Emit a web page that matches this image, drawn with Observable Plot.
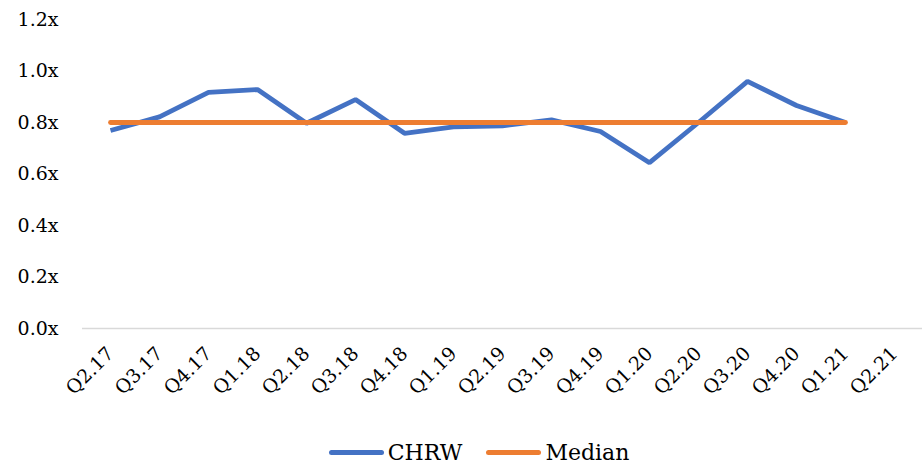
<!DOCTYPE html>
<html>
<head>
<meta charset="utf-8">
<script src="https://cdn.jsdelivr.net/npm/d3@7"></script>
<script src="https://cdn.jsdelivr.net/npm/@observablehq/plot@0.6"></script>
<style>
  html, body { margin: 0; padding: 0; background: #fff; }
  body { width: 922px; height: 463px; overflow: hidden; position: relative; font-family: "DejaVu Serif", serif; }
  #legend { position: absolute; left: 0; top: 436px; width: 922px; display: flex; justify-content: center; align-items: center; height: 32px; padding-left: 36px; box-sizing: border-box; font-size: 22px; color: #000; }
  .item { display: flex; align-items: center; margin: 0 12px; }
  .sw { width: 55px; height: 5px; border-radius: 3px; margin-right: 4px; }
</style>
</head>
<body>
<div id="chart"></div>
<div id="legend"></div>
<script>
const quarters = ["Q2.17","Q3.17","Q4.17","Q1.18","Q2.18","Q3.18","Q4.18","Q1.19","Q2.19","Q3.19","Q4.19","Q1.20","Q2.20","Q3.20","Q4.20","Q1.21","Q2.21"];
const chrwQuarters = ["Q2.17","Q3.17","Q4.17","Q1.18","Q2.18","Q3.18","Q4.18","Q1.19","Q2.19","Q3.19","Q4.19","Q1.20","Q2.20","Q3.20","Q4.20","Q1.21"];
const chrwValues = [0.769,0.822,0.917,0.928,0.797,0.889,0.758,0.783,0.787,0.810,0.765,0.644,0.800,0.960,0.866,0.800];
const medianValues = [0.80,0.80,0.80,0.80,0.80,0.80,0.80,0.80,0.80,0.80,0.80,0.80,0.80,0.80,0.80,0.80];
const yTicks = [0, 0.2, 0.4, 0.6, 0.8, 1.0, 1.2];
const seriesNames = ["CHRW", "Median"];
const seriesColors = ["#4472C4", "#ED7D31"];

const chrw = chrwQuarters.map((q, i) => ({q, v: chrwValues[i]}));
const median = chrwQuarters.map((q, i) => ({q, v: medianValues[i]}));

const chart = Plot.plot({
  width: 922,
  height: 430,
  marginTop: 19,
  marginBottom: 102,
  marginLeft: 82,
  marginRight: 0,
  style: { fontFamily: "DejaVu Serif, serif", fontSize: "19px", color: "#000", background: "#fff" },
  x: { type: "point", domain: quarters, padding: 0.5, align: 0.5 },
  y: { domain: [0, 1.2] },
  marks: [
    Plot.ruleY([0], { stroke: "#d9d9d9", strokeWidth: 1.5 }),
    Plot.axisY({ ticks: yTicks, tickFormat: d => d.toFixed(1) + "x", tickSize: 0, tickPadding: 24, fontSize: 19, label: null }),
    Plot.axisX({ tickSize: 0, tickRotate: -45, tickPadding: 22, fontSize: 19, label: null }),
    Plot.line(chrw, { x: "q", y: "v", stroke: seriesColors[0], strokeWidth: 4.8, strokeLinejoin: "miter", strokeLinecap: "butt" }),
    Plot.line(median, { x: "q", y: "v", stroke: seriesColors[1], strokeWidth: 4.8, strokeLinecap: "round" })
  ]
});
document.getElementById("chart").appendChild(chart);

const legend = document.getElementById("legend");
seriesNames.forEach((name, i) => {
  const item = document.createElement("div");
  item.className = "item";
  const sw = document.createElement("div");
  sw.className = "sw";
  sw.style.background = seriesColors[i];
  const t = document.createElement("span");
  t.textContent = name;
  item.appendChild(sw);
  item.appendChild(t);
  legend.appendChild(item);
});
</script>
</body>
</html>
